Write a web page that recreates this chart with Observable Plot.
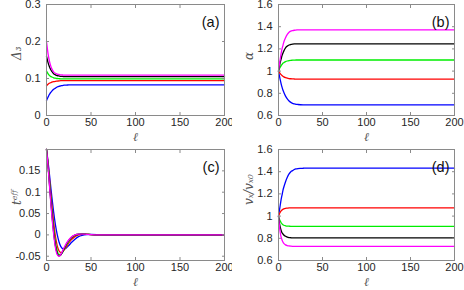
<!DOCTYPE html>
<html><head><meta charset="utf-8">
<script src="https://cdn.jsdelivr.net/npm/d3@7"></script>
<script src="https://cdn.jsdelivr.net/npm/@observablehq/plot@0.6"></script>
<style>
body{margin:0;background:#fff;}
#wrap{width:464px;height:290px;display:grid;grid-template-columns:232px 232px;grid-template-rows:145px 145px;}
#wrap svg{display:block;}
</style></head><body><div id="wrap"></div>
<script>
// shared x grid (ℓ)
const ell = [0,1,2,3,4,5,6,8,10,12,14,16,18,20,22,25,28,32,36,40,45,50,60,70,80,100,150,200];
const xTicks = [0,50,100,150,200];
const seriesNames = ["blue","red","green","black","magenta"];
const seriesColors = ["#0000ff","#ff0000","#00ee00","#000000","#ff00ff"];

// (a) Δ3
const d3Blue    = [0.040,0.046,0.051,0.056,0.060,0.063,0.066,0.071,0.074,0.077,0.079,0.080,0.081,0.082,0.0822,0.0826,0.083,0.083,0.083,0.083,0.083,0.083,0.083,0.083,0.083,0.083,0.083,0.083];
const d3Red     = [0.080,0.083,0.085,0.087,0.088,0.089,0.090,0.0915,0.0925,0.093,0.0935,0.094,0.094,0.094,0.094,0.094,0.094,0.094,0.094,0.094,0.094,0.094,0.094,0.094,0.094,0.094,0.094,0.094];
const d3Green   = [0.120,0.116,0.112,0.109,0.107,0.105,0.104,0.102,0.101,0.100,0.0995,0.099,0.099,0.099,0.099,0.099,0.099,0.099,0.099,0.099,0.099,0.099,0.099,0.099,0.099,0.099,0.099,0.099];
const d3Black   = [0.160,0.150,0.141,0.134,0.128,0.123,0.119,0.113,0.110,0.108,0.107,0.106,0.1055,0.105,0.105,0.105,0.105,0.105,0.105,0.105,0.105,0.105,0.105,0.105,0.105,0.105,0.105,0.105];
const d3Magenta = [0.200,0.180,0.163,0.150,0.140,0.132,0.126,0.118,0.114,0.112,0.111,0.110,0.1095,0.109,0.109,0.109,0.109,0.109,0.109,0.109,0.109,0.109,0.109,0.109,0.109,0.109,0.109,0.109];
const aTicks = [0,0.1,0.2,0.3];

// (b) α
const alBlue    = [1,0.96,0.92,0.885,0.855,0.83,0.81,0.775,0.75,0.73,0.718,0.71,0.705,0.701,0.699,0.697,0.696,0.696,0.696,0.696,0.696,0.696,0.696,0.696,0.696,0.696,0.696,0.696];
const alRed     = [1,0.988,0.977,0.968,0.960,0.953,0.948,0.941,0.936,0.933,0.931,0.930,0.929,0.928,0.928,0.928,0.928,0.928,0.928,0.928,0.928,0.928,0.928,0.928,0.928,0.928,0.928,0.928];
const alGreen   = [1,1.02,1.035,1.05,1.06,1.07,1.076,1.085,1.091,1.095,1.097,1.098,1.099,1.10,1.10,1.10,1.10,1.10,1.10,1.10,1.10,1.10,1.10,1.10,1.10,1.10,1.10,1.10];
const alBlack   = [1,1.04,1.08,1.11,1.14,1.16,1.18,1.21,1.225,1.235,1.24,1.243,1.245,1.246,1.246,1.246,1.246,1.246,1.246,1.246,1.246,1.246,1.246,1.246,1.246,1.246,1.246,1.246];
const alMagenta = [1,1.06,1.11,1.16,1.20,1.23,1.26,1.30,1.33,1.35,1.36,1.365,1.368,1.37,1.372,1.372,1.372,1.372,1.372,1.372,1.372,1.372,1.372,1.372,1.372,1.372,1.372,1.372];
const bTicks = [0.6,0.8,1,1.2,1.4,1.6];

// (c) t^eff
const teBlue    = [0.2,0.184,0.167,0.148,0.128,0.108,0.089,0.054,0.024,0.001,-0.016,-0.027,-0.032,-0.033,-0.031,-0.025,-0.018,-0.01,-0.004,-0.001,0.0006,0.001,0.0006,0.0002,0,0,0,0];
const teRed     = [0.2,0.182,0.162,0.139,0.115,0.092,0.07,0.03,-0.003,-0.025,-0.037,-0.041,-0.04,-0.035,-0.029,-0.019,-0.011,-0.004,0,0.0015,0.0015,0.0008,0.0002,0,0,0,0,0];
const teGreen   = [0.2,0.18,0.158,0.132,0.106,0.081,0.058,0.016,-0.017,-0.037,-0.046,-0.046,-0.041,-0.033,-0.025,-0.015,-0.007,-0.001,0.0012,0.0018,0.0013,0.0006,0,0,0,0,0,0];
const teBlack   = [0.2,0.179,0.155,0.128,0.1,0.074,0.05,0.007,-0.025,-0.043,-0.049,-0.047,-0.04,-0.031,-0.023,-0.013,-0.006,-0.0005,0.0015,0.002,0.0013,0.0006,0,0,0,0,0,0];
const teMagenta = [0.2,0.178,0.153,0.125,0.097,0.07,0.045,0.002,-0.029,-0.046,-0.05,-0.046,-0.038,-0.029,-0.021,-0.012,-0.005,0,0.0018,0.002,0.0012,0.0005,0,0,0,0,0,0];
const cTicks = [-0.05,0,0.05,0.1,0.15];

// (d) v_x / v_x0
const vxBlue    = [1,1.05,1.10,1.15,1.19,1.23,1.26,1.31,1.35,1.38,1.40,1.41,1.42,1.425,1.428,1.430,1.431,1.432,1.432,1.432,1.432,1.432,1.432,1.432,1.432,1.432,1.432,1.432];
const vxRed     = [1,1.02,1.035,1.047,1.055,1.061,1.065,1.07,1.072,1.074,1.075,1.075,1.075,1.075,1.075,1.075,1.075,1.075,1.075,1.075,1.075,1.075,1.075,1.075,1.075,1.075,1.075,1.075];
const vxGreen   = [1,0.975,0.955,0.94,0.93,0.923,0.918,0.913,0.91,0.909,0.908,0.908,0.908,0.908,0.908,0.908,0.908,0.908,0.908,0.908,0.908,0.908,0.908,0.908,0.908,0.908,0.908,0.908];
const vxBlack   = [1,0.94,0.90,0.87,0.85,0.84,0.83,0.818,0.811,0.807,0.805,0.803,0.803,0.803,0.803,0.803,0.803,0.803,0.803,0.803,0.803,0.803,0.803,0.803,0.803,0.803,0.803,0.803];
const vxMagenta = [1,0.91,0.85,0.81,0.785,0.767,0.755,0.741,0.734,0.731,0.729,0.728,0.728,0.728,0.728,0.728,0.728,0.728,0.728,0.728,0.728,0.728,0.728,0.728,0.728,0.728,0.728,0.728];
const dTicks = [0.6,0.8,1,1.2,1.4,1.6];

const FONT = "'Liberation Sans', Arial, Helvetica, sans-serif";
const SERIF = "'DejaVu Serif', 'Liberation Serif', serif";
const AXIS = "#262626";
const FRAME = "#8a8a8a";

function panel({arrays, yDomain, yTicks, ylabel, tag, marginRight}) {
  const rows = arrays.flatMap((arr, k) => ell.map((l, i) => ({ell: l, v: arr[i], s: seriesColors[k]})));
  const common = {tickSize: -3, stroke: FRAME, color: AXIS, label: null, fontSize: 11};
  return Plot.plot({
    width: 232, height: 145,
    marginLeft: 46, marginRight, marginTop: 4, marginBottom: 30,
    style: {fontFamily: FONT, fontSize: "11px", color: AXIS, background: "white", overflow: "visible"},
    x: {domain: [0, 200]},
    y: {domain: yDomain},
    color: {type: "identity"},
    marks: [
      Plot.line(rows, {x: "ell", y: "v", z: "s", stroke: "s", strokeWidth: 1.3, curve: "monotone-x"}),
      Plot.frame({stroke: FRAME, strokeWidth: 1}),
      Plot.axisX({...common, anchor: "bottom", ticks: xTicks, tickPadding: 6, tickFormat: d => String(d)}),
      Plot.axisX({...common, anchor: "top", ticks: xTicks, tickFormat: () => ""}),
      Plot.axisY({...common, anchor: "left", ticks: yTicks, tickPadding: 9, tickFormat: d => String(d)}),
      Plot.axisY({...common, anchor: "right", ticks: yTicks, tickFormat: () => ""}),
      Plot.text([tag], {frameAnchor: "top-right", dx: -5, dy: 12, fontSize: 14.5, textAnchor: "end", fill: "#111", fontFamily: FONT}),
      Plot.text(["ℓ"], {frameAnchor: "bottom", dy: 25, fontSize: 12, fontStyle: "italic", fill: "#555", fontFamily: SERIF}),
      Plot.text([ylabel], {frameAnchor: "left", dx: -29, rotate: -90, fontSize: 12, fontStyle: "italic", fill: "#555", fontFamily: SERIF})
    ]
  });
}

const wrap = document.getElementById("wrap");
wrap.append(
  panel({arrays: [d3Blue, d3Red, d3Green, d3Black, d3Magenta], yDomain: [0, 0.3], yTicks: aTicks, ylabel: "Δ₃", tag: "(a)", marginRight: 8}),
  panel({arrays: [alBlue, alRed, alGreen, alBlack, alMagenta], yDomain: [0.6, 1.6], yTicks: bTicks, ylabel: "α", tag: "(b)", marginRight: 10}),
  panel({arrays: [teBlue, teRed, teGreen, teBlack, teMagenta], yDomain: [-0.06, 0.2], yTicks: cTicks, ylabel: "tᵉᶠᶠ", tag: "(c)", marginRight: 8}),
  panel({arrays: [vxBlue, vxRed, vxGreen, vxBlack, vxMagenta], yDomain: [0.6, 1.6], yTicks: dTicks, ylabel: "vₓ/vₓ₀", tag: "(d)", marginRight: 10})
);
</script></body></html>
